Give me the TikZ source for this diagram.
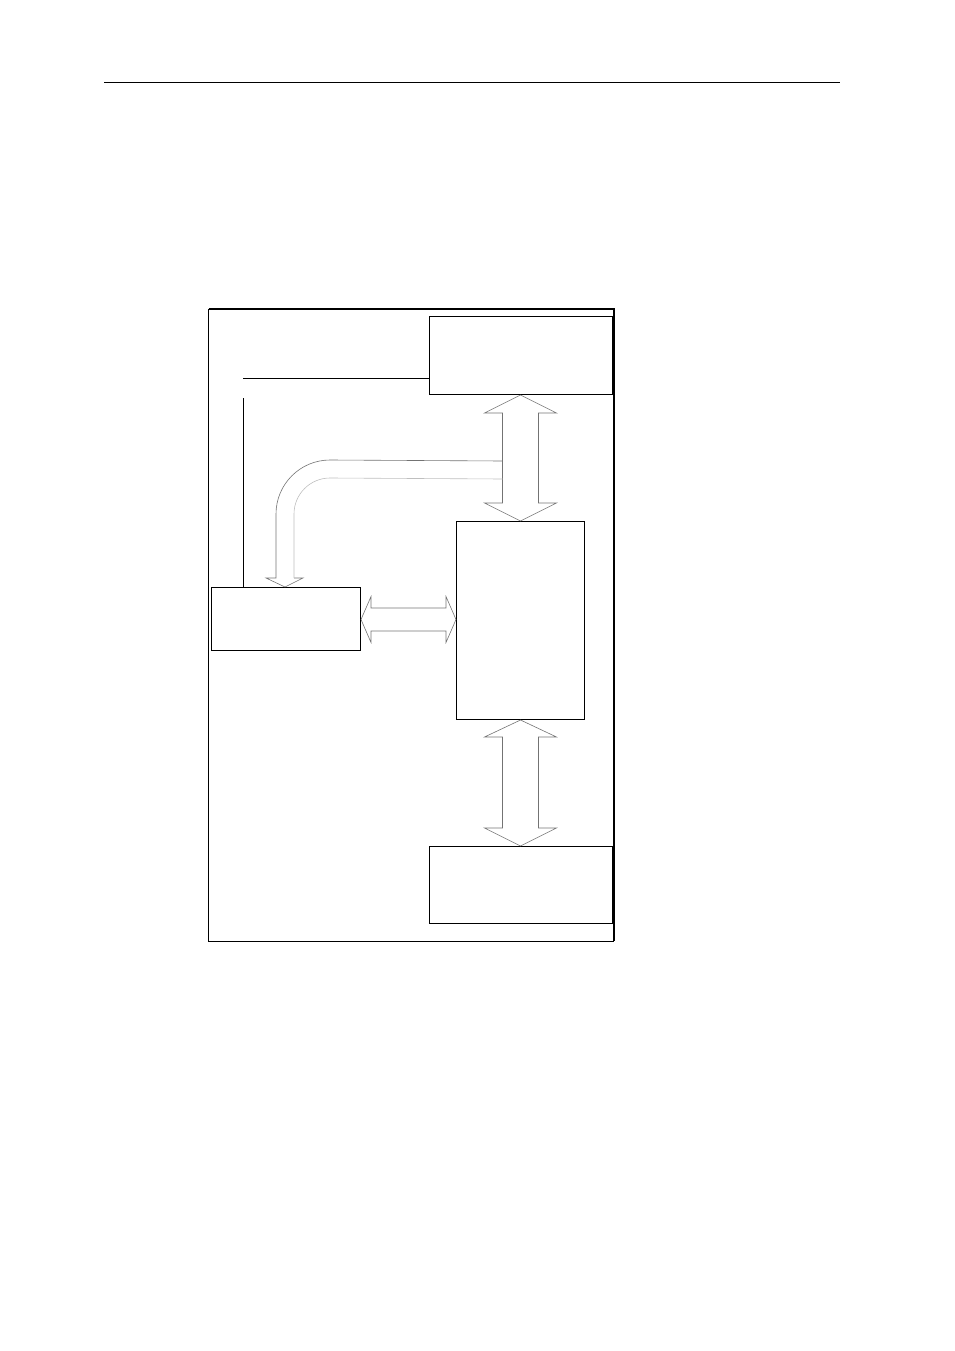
\documentclass[tikz,border=0pt]{standalone}
\usetikzlibrary{calc}
\begin{document}
\begin{tikzpicture}[x=1pt,y=-1pt,
  box/.style={draw=black,line width=1pt,fill=white,inner sep=0pt,anchor=north west},
  arrowline/.style={draw=black!55,line width=0.6pt,line join=miter},
  lightline/.style={draw=black!25,line width=0.6pt},
  wire/.style={draw=black,line width=1pt}]
\useasboundingbox (0,0) rectangle (954,1351);
% header rule
\coordinate (hl) at (104,82.3);
\coordinate (hr) at (840,82.3);
\draw[line width=1pt] (hl) -- (hr);
% outer frame
\coordinate (fnw) at (208.5,309);
\coordinate (fse) at (613.5,941);
\draw[line width=1pt] (fnw) rectangle (fse);
\draw[line width=2pt] (fnw) -- (fnw -| fse) -- (fse);
% boxes
\node[box,minimum width=182.5pt,minimum height=78pt] (top) at (429,316) {};
\node[box,minimum width=128pt,minimum height=198pt] (mid) at (456,521) {};
\node[box,minimum width=149pt,minimum height=63pt] (left) at (211,587) {};
\node[box,minimum width=182.5pt,minimum height=77pt] (bot) at (429,846) {};
% wires
\coordinate (w1) at (243,378.3);
\coordinate (w2) at (243,398);
\draw[wire] (w1) -- (w1 -| top.west);
\draw[wire] (w2) -- (w2 |- left.north);
% vertical double arrow top -> mid
\coordinate (a1) at (top.south -| mid.north);
\coordinate (a2) at (mid.north);
\draw[arrowline] (a1) -- ++(-36,18) -- ++(18,0) |- ($(a2)+(-36,-18)$) -- (a2)
   -- ($(a2)+(36,-18)$) -- ++(-18,0) |- ($(a1)+(36,18)$) -- cycle;
% bent arrow from shaft to left box
\coordinate (bt) at ($(left.north west)+(74,0)$);
\draw[arrowline] ($(a1)+(-18,66)$) -- (330,460) arc[start angle=270,end angle=180,radius=54]
   -- ($(bt)+(-9,-9)$) -- ++(-10,0) -- (bt) -- ++(18,-9) -- ++(-9,0);
\draw[lightline] ($(bt)+(9,-9)$) -- (294,514) arc[start angle=180,end angle=270,radius=36] -- ($(a1)+(-18,84)$);
% horizontal double arrow left <-> mid
\coordinate (h1) at ($(left.east)+(0,0.5)$);
\coordinate (h2) at (h1 -| mid.west);
\draw[arrowline] (h1) -- ++(10,-23) -- ++(0,11.5) -- ($(h2)+(-10,-11.5)$) -- ++(0,-11.5) -- (h2)
   -- ($(h2)+(-10,23)$) -- ++(0,-11.5) -- ($(h1)+(10,11.5)$) -- ++(0,11.5) -- cycle;
% vertical double arrow mid -> bot
\coordinate (c1) at (mid.south);
\coordinate (c2) at (bot.north -| mid.south);
\draw[arrowline] (c1) -- ++(-36,17) -- ++(18,0) |- ($(c2)+(-36,-18)$) -- (c2)
   -- ($(c2)+(36,-18)$) -- ++(-18,0) |- ($(c1)+(36,17)$) -- cycle;
\end{tikzpicture}
\end{document}
